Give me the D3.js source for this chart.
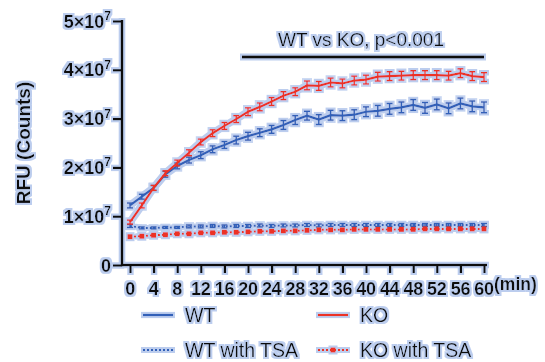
<!DOCTYPE html>
<html><head><meta charset="utf-8">
<script src="https://cdn.jsdelivr.net/npm/d3@7"></script>
<style>
html,body{margin:0;padding:0;background:#fff;}
svg{display:block;font-family:"Liberation Sans",Arial,sans-serif;}
</style></head>
<body>
<svg id="chart" width="545" height="362"></svg>
<script>
const times = [0,2,4,6,8,10,12,14,16,18,20,22,24,26,28,30,32,34,36,38,40,42,44,46,48,50,52,54,56,58,60];
const wt = [1.22e7,1.40e7,1.58e7,1.86e7,2.03e7,2.15e7,2.25e7,2.37e7,2.46e7,2.56e7,2.64e7,2.71e7,2.78e7,2.87e7,2.97e7,3.06e7,2.98e7,3.07e7,3.06e7,3.08e7,3.14e7,3.16e7,3.20e7,3.23e7,3.28e7,3.22e7,3.29e7,3.21e7,3.31e7,3.25e7,3.23e7];
const ko = [0.88e7,1.22e7,1.58e7,1.88e7,2.09e7,2.30e7,2.52e7,2.70e7,2.85e7,2.99e7,3.14e7,3.24e7,3.35e7,3.47e7,3.55e7,3.68e7,3.67e7,3.74e7,3.72e7,3.78e7,3.80e7,3.86e7,3.87e7,3.88e7,3.89e7,3.89e7,3.89e7,3.88e7,3.93e7,3.87e7,3.85e7];
const wtTsa = [0.80e7,0.76e7,0.76e7,0.77e7,0.77e7,0.79e7,0.79e7,0.80e7,0.79e7,0.80e7,0.80e7,0.81e7,0.80e7,0.81e7,0.81e7,0.82e7,0.81e7,0.82e7,0.82e7,0.82e7,0.82e7,0.82e7,0.82e7,0.82e7,0.82e7,0.82e7,0.82e7,0.82e7,0.82e7,0.82e7,0.82e7];
const koTsa = [0.58e7,0.59e7,0.61e7,0.62e7,0.64e7,0.64e7,0.66e7,0.66e7,0.67e7,0.67e7,0.68e7,0.69e7,0.69e7,0.70e7,0.70e7,0.71e7,0.72e7,0.72e7,0.72e7,0.73e7,0.73e7,0.73e7,0.73e7,0.73e7,0.73e7,0.74e7,0.74e7,0.74e7,0.74e7,0.74e7,0.74e7];
const wtErr = [0.05e7,0.05e7,0.05e7,0.06e7,0.06e7,0.06e7,0.07e7,0.07e7,0.07e7,0.08e7,0.08e7,0.08e7,0.08e7,0.09e7,0.09e7,0.09e7,0.10e7,0.10e7,0.10e7,0.10e7,0.10e7,0.11e7,0.11e7,0.11e7,0.11e7,0.11e7,0.11e7,0.11e7,0.11e7,0.11e7,0.11e7];
const koErr = [0.04e7,0.05e7,0.05e7,0.05e7,0.06e7,0.06e7,0.06e7,0.07e7,0.07e7,0.07e7,0.08e7,0.08e7,0.08e7,0.08e7,0.08e7,0.09e7,0.09e7,0.09e7,0.09e7,0.09e7,0.09e7,0.09e7,0.09e7,0.09e7,0.09e7,0.09e7,0.09e7,0.09e7,0.09e7,0.09e7,0.09e7];
const tsaErr = [0.03e7,0.02e7,0.02e7,0.02e7,0.02e7,0.03e7,0.03e7,0.03e7,0.03e7,0.03e7,0.03e7,0.03e7,0.03e7,0.03e7,0.03e7,0.03e7,0.03e7,0.03e7,0.03e7,0.03e7,0.03e7,0.03e7,0.03e7,0.03e7,0.03e7,0.03e7,0.03e7,0.03e7,0.03e7,0.03e7,0.03e7];
const xTicks = [0,4,8,12,16,20,24,28,32,36,40,44,48,52,56,60];
const yTicks = [0,1e7,2e7,3e7,4e7,5e7];
const seriesNames = ["WT","KO","WT with TSA","KO with TSA"];
const annotation = "WT vs KO, p<0.001";
const sigRange = [20,60];

const BLUE = "#3060b8", RED = "#ec3226", HALO = "#bccdee";
const svg = d3.select("#chart");
const defs = svg.append("defs");
const f = defs.append("filter").attr("id","halo").attr("filterUnits","userSpaceOnUse")
  .attr("x",0).attr("y",0).attr("width",545).attr("height",362);
f.append("feMorphology").attr("in","SourceAlpha").attr("operator","dilate").attr("radius",1.7).attr("result","d");
f.append("feGaussianBlur").attr("in","d").attr("stdDeviation",0.7).attr("result","b");
f.append("feFlood").attr("flood-color",HALO).attr("result","c");
f.append("feComposite").attr("in","c").attr("in2","b").attr("operator","in").attr("result","h");
const m = f.append("feMerge");
m.append("feMergeNode").attr("in","h");
m.append("feMergeNode").attr("in","SourceGraphic");

const g = svg.append("g").attr("filter","url(#halo)");
const x = d3.scaleLinear().domain([0,60]).range([130,484]);
const y = d3.scaleLinear().domain([0,5e7]).range([265,21]);
const X0 = 122;

// axes
const yAxis = g.append("g").attr("transform",`translate(${X0},0)`)
  .call(d3.axisLeft(y).tickValues(yTicks).tickSize(9).tickSizeOuter(0).tickFormat(""));
const xAxis = g.append("g").attr("transform",`translate(0,${y(0)})`)
  .call(d3.axisBottom(x).tickValues(xTicks).tickSize(8).tickSizeOuter(0).tickFormat(""));
[yAxis,xAxis].forEach(a=>{a.select(".domain").remove();a.selectAll("line").attr("stroke","#111").attr("stroke-width",2.4);});
g.append("line").attr("x1",X0).attr("x2",X0).attr("y1",y(5e7)-1).attr("y2",y(0)+1.2).attr("stroke","#111").attr("stroke-width",2.6);
g.append("line").attr("x1",X0).attr("x2",x(60)+3).attr("y1",y(0)).attr("y2",y(0)).attr("stroke","#111").attr("stroke-width",2.6);

// y tick labels
yTicks.forEach(v=>{
  const t = g.append("text").attr("x",111).attr("y",y(v)+6.5).attr("text-anchor","end")
    .attr("font-size",18).attr("font-weight","bold").attr("fill","#111");
  if(v===0){ t.text("0"); }
  else {
    const mant = v/1e7;
    t.append("tspan").text(mant+"×10");
    t.append("tspan").attr("font-size",12).attr("dy",-7.5).text("7");
  }
});
// x tick labels
xTicks.forEach(v=>{
  g.append("text").attr("x",x(v)).attr("y",295).attr("text-anchor","middle")
   .attr("font-size",18).attr("font-weight","bold").attr("fill","#111").attr("letter-spacing",-0.3).text(v);
});
g.append("text").attr("x",494).attr("y",290).attr("font-size",17.5).attr("font-weight","bold").attr("fill","#111").text("(min)");
g.append("text").attr("transform","translate(30,143) rotate(-90)").attr("text-anchor","middle")
  .attr("font-size",19).attr("font-weight","bold").attr("fill","#111").text("RFU (Counts)");

// annotation
g.append("text").attr("x",361).attr("y",46).attr("text-anchor","middle")
  .attr("font-size",19).attr("fill","#111").text(annotation);
g.append("line").attr("x1",x(sigRange[0])-6).attr("x2",x(sigRange[1])).attr("y1",57).attr("y2",57)
  .attr("stroke","#111").attr("stroke-width",3.2);

const line = d3.line().x((d,i)=>x(times[i])).y(d=>y(d));
function errbars(vals, errs, color, capW){
  const eg = g.append("g").attr("stroke",color).attr("stroke-width",1.5);
  vals.forEach((v,i)=>{
    const xi = x(times[i]), e = errs[i];
    eg.append("line").attr("x1",xi).attr("x2",xi).attr("y1",y(v+e)).attr("y2",y(v-e));
    eg.append("line").attr("x1",xi-capW).attr("x2",xi+capW).attr("y1",y(v+e)).attr("y2",y(v+e));
    eg.append("line").attr("x1",xi-capW).attr("x2",xi+capW).attr("y1",y(v-e)).attr("y2",y(v-e));
  });
}
// TSA series
g.append("path").datum(wtTsa).attr("d",line).attr("fill","none").attr("stroke",BLUE).attr("stroke-width",2).attr("stroke-dasharray","2,2");
errbars(wtTsa, tsaErr, BLUE, 3);
g.append("path").datum(koTsa).attr("d",line).attr("fill","none").attr("stroke",RED).attr("stroke-width",2).attr("stroke-dasharray","2,2");
g.append("g").selectAll("rect").data(koTsa).join("rect")
  .attr("x",(d,i)=>x(times[i])-2.5).attr("y",d=>y(d)-2.5).attr("width",5).attr("height",5).attr("fill",RED);
// main series
g.append("path").datum(wt).attr("d",line).attr("fill","none").attr("stroke",BLUE).attr("stroke-width",2.2);
errbars(wt, wtErr, BLUE, 3);
g.append("path").datum(ko).attr("d",line).attr("fill","none").attr("stroke",RED).attr("stroke-width",2.2);
errbars(ko, koErr, RED, 3);

// legend
const leg = [
  {name:seriesNames[0], x:143, y:315, color:BLUE, dash:null, marker:false},
  {name:seriesNames[1], x:318, y:315, color:RED, dash:null, marker:false},
  {name:seriesNames[2], x:143, y:350, color:BLUE, dash:"2,2", marker:false},
  {name:seriesNames[3], x:318, y:350, color:RED, dash:"2,2", marker:true}
];
leg.forEach(l=>{
  g.append("line").attr("x1",l.x).attr("x2",l.x+30).attr("y1",l.y).attr("y2",l.y)
    .attr("stroke",l.color).attr("stroke-width",2.2).attr("stroke-dasharray",l.dash);
  if(l.marker) g.append("rect").attr("x",l.x+12.5).attr("y",l.y-2.5).attr("width",5).attr("height",5).attr("fill",l.color);
  g.append("text").attr("x",l.x+42).attr("y",l.y+7).attr("font-size",19.5).attr("fill","#111").text(l.name);
});
</script>
</body></html>
